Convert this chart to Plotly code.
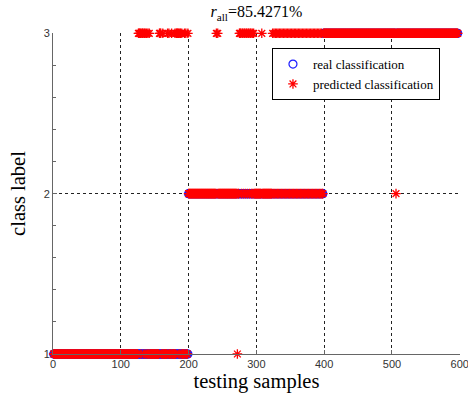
import plotly.graph_objects as go

# Data: 597 testing samples, 199 per class
n_per_class = [199, 199, 199]
class_values = [1, 2, 3]
# Misclassified samples (sample index -> predicted label)
class1_to_3 = [126, 127, 128, 129, 131, 132, 133, 135, 136, 138, 140, 142,
               157, 158, 159, 162, 169, 171, 175, 180, 182, 183, 184, 185, 187, 188,
               190, 194, 196, 199]
class2_to_3 = [241, 243,
               275, 276, 277, 279, 280, 282, 283, 285, 286, 288, 289, 291, 292, 294, 296,
               308,
               324, 326, 328, 330, 332, 334, 336, 338, 340, 342, 344, 346, 348, 350, 352,
               354, 356, 358, 360, 362, 364, 366, 368, 370, 372, 374, 376, 378, 380, 382,
               384, 386, 388, 390, 392, 394, 396]
class2_to_1 = [272]
class3_to_2 = [506]

real = []
for c, n in zip(class_values, n_per_class):
    real += [c] * n
samples = list(range(1, len(real) + 1))
pred = list(real)
for s in class1_to_3 + class2_to_3:
    pred[s - 1] = 3
for s in class2_to_1:
    pred[s - 1] = 1
for s in class3_to_2:
    pred[s - 1] = 2

acc = sum(1 for a, b in zip(real, pred) if a == b) / len(real) * 100
title = f"<i>r</i><sub>all</sub>={acc:.4f}%"

fig = go.Figure()
fig.add_trace(go.Scatter(
    x=samples, y=real, mode="markers", name="real classification",
    marker=dict(symbol="circle-open", size=8, color="#1a1aff", line=dict(width=1.2, color="#1a1aff")),
    cliponaxis=False))
fig.add_trace(go.Scatter(
    x=samples, y=pred, mode="markers", name="predicted classification",
    marker=dict(symbol="asterisk-open", size=8, color="red", line=dict(width=1.3, color="red")),
    cliponaxis=False))

fig.update_layout(
    width=468, height=396,
    margin=dict(l=53, r=8, t=33, b=42, autoexpand=False),
    paper_bgcolor="white", plot_bgcolor="white",
    title=dict(text=title, x=0.548, xanchor="center", y=0.985, yanchor="top",
               font=dict(family="Liberation Serif", size=16, color="black")),
    showlegend=True,
    legend=dict(x=0.538, y=0.953, xanchor="left", yanchor="top",
                bgcolor="white", bordercolor="black", borderwidth=1,
                font=dict(family="Liberation Serif", size=13, color="black"),
                tracegroupgap=0, itemwidth=30),
    xaxis=dict(range=[0, 600.4], tickvals=[0, 100, 200, 300, 400, 500, 600],
               automargin=False,
               showgrid=True, griddash="dot",
               gridcolor="#222", gridwidth=1, zeroline=False,
               showline=True, linecolor="#666", linewidth=1,
               ticks="inside", ticklen=4, tickcolor="#666", ticklabeloverflow="allow",
               tickfont=dict(family="Liberation Sans", size=11, color="#333"),
               title=dict(text="testing samples", standoff=2,
                          font=dict(family="Liberation Serif", size=20.5, color="black"))),
    yaxis=dict(range=[1, 3.002], tickvals=[1, 2, 3], showgrid=True, griddash="dot",
               automargin=False,
               gridcolor="#222", gridwidth=1, zeroline=False,
               showline=True, linecolor="#666", linewidth=1,
               ticks="inside", ticklen=4, tickcolor="#666",
               minor=dict(dtick=0.2, tick0=1, ticks="inside", ticklen=3, tickcolor="#666", showgrid=False),
               tickfont=dict(family="Liberation Sans", size=11, color="#333"),
               title=dict(text="class label", standoff=12,
                          font=dict(family="Liberation Serif", size=20.5, color="black"))),
)

fig.write_html("out.html")
